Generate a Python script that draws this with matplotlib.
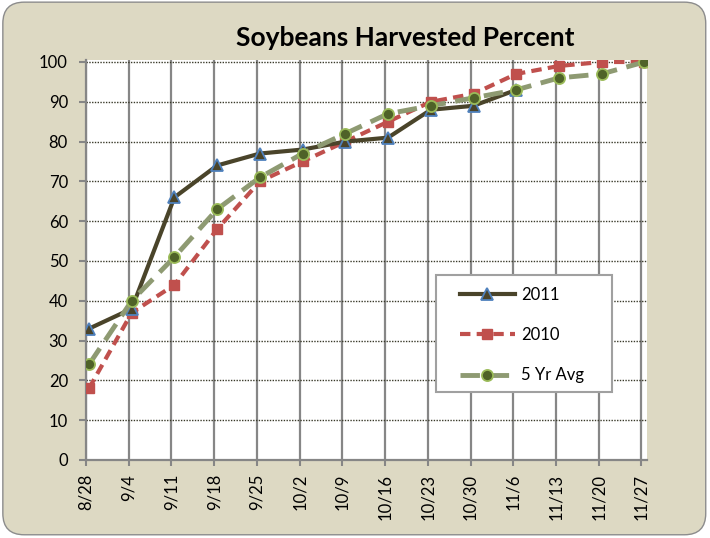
import matplotlib.pyplot as plt
from matplotlib.patches import FancyBboxPatch, Rectangle
import numpy as np

weeks = ['8/28', '9/4', '9/11', '9/18', '9/25', '10/2', '10/9', '10/16',
         '10/23', '10/30', '11/6', '11/13', '11/20', '11/27']
y2011 = [33, 38, 66, 74, 77, 78, 80, 81, 88, 89, 93]
y2010 = [18, 37, 44, 58, 70, 75, 80, 85, 90, 92, 97, 99, 100, 100]
avg5 = [24, 40, 51, 63, 71, 77, 82, 87, 89, 91, 93, 96, 97, 100]

plt.rcParams['font.family'] = ['Lato', 'DejaVu Sans']

W, H = 710, 538
fig = plt.figure(figsize=(W / 100, H / 100), dpi=100)
fig.patch.set_facecolor('white')
bg = FancyBboxPatch((0.004, 0.006), 0.99, 0.99, boxstyle='round,pad=0,rounding_size=0.03',
                    transform=fig.transFigure, facecolor='#DDD9C3', edgecolor='#8C8C8C',
                    linewidth=1.0, mutation_aspect=W / H, zorder=-5)
fig.patches.append(bg)

# plot area in pixels: x 86..647, y 60..460
ax = fig.add_axes([86 / W, 1 - 460 / H, (647 - 86) / W, (460 - 60) / H])
ax.set_facecolor('white')

off = 0.07  # points sit a little right of the gridlines in the original
x = np.arange(len(weeks))

ax.plot(x[:len(y2011)] + off, y2011, color='#4A442A', lw=3, marker='^', ms=8.5,
        mfc='#4A442A', mec='#4F81BD', mew=1.3, label='2011', zorder=5)
ax.plot(x[:len(y2010)] + off, y2010, color='#C0504D', lw=3, ls=(0, (2.5, 1.5)),
        marker='s', ms=7, mfc='#C0504D', mec='#C0504D', label='2010', zorder=4)
ax.plot(x[:len(avg5)] + off, avg5, color='#8E9A72', lw=3.5, ls=(0, (4, 2)),
        marker='o', ms=8, mfc='#4F6228', mec='#9BBB59', mew=1.3, label='5 Yr Avg', zorder=6)

ax.set_xlim(0, 13.13)
ax.set_ylim(0, 100.5)
ax.set_yticks(range(0, 101, 10))
ax.set_xticks(x)
ax.set_xticklabels(weeks, rotation=90, fontsize=12)
ax.tick_params(axis='y', labelsize=12, length=5, width=1.5, color='#868686', pad=8)
ax.tick_params(axis='x', length=4, width=1.5, color='#868686', pad=6)

ax.grid(axis='x', color='#868686', lw=1.6, ls='-', zorder=0)
ax.grid(axis='y', color='#3A3A2A', lw=1.0, ls=(0, (1, 1)), zorder=0)
ax.set_axisbelow(True)

for s in ['top', 'right']:
    ax.spines[s].set_visible(False)
for s in ['left', 'bottom']:
    ax.spines[s].set_color('#868686')
    ax.spines[s].set_linewidth(1.6)

fig.text(405 / W, 1 - 38 / H, 'Soybeans Harvested Percent', ha='center', va='center',
         fontsize=19, fontweight='bold')

# legend box 436..612 x 275..392 px, entries drawn frameless inside
aw, ah = 647 - 86, 460 - 60
box = Rectangle(((436 - 86) / aw, (460 - 392) / ah), (612 - 436) / aw, (392 - 275) / ah,
                transform=ax.transAxes, facecolor='white', edgecolor='#A0A0A0', lw=1.5,
                zorder=19, clip_on=False)
ax.add_patch(box)
leg = ax.legend(loc='upper left', bbox_to_anchor=((460 - 86) / aw, (460 - 287) / ah),
                fontsize=12, frameon=False, borderpad=0, borderaxespad=0,
                handlelength=3.3, labelspacing=1.45, handletextpad=0.35)
leg.set_zorder(20)

fig.savefig('out.png', dpi=100, facecolor=fig.get_facecolor())
